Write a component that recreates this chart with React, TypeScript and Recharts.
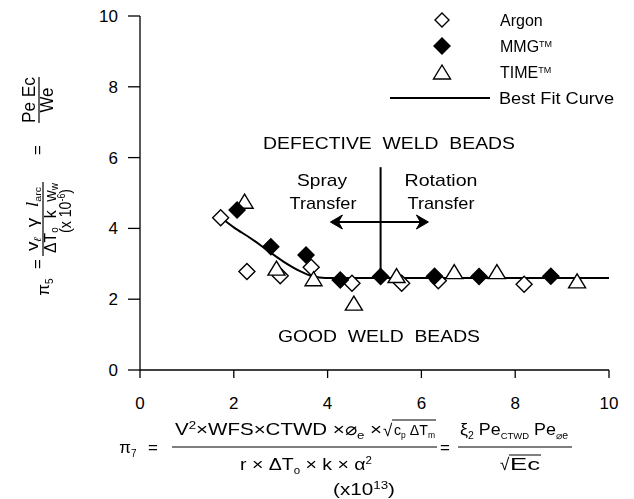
import React from 'react'
import { ComposedChart, Scatter, Line, XAxis, YAxis, ReferenceLine } from 'recharts'

const axisTicks = [0, 2, 4, 6, 8, 10]

const argonX = [1.72, 2.28, 2.99, 3.65, 4.52, 5.58, 6.36, 8.19]
const argonY = [4.3, 2.78, 2.66, 2.9, 2.45, 2.45, 2.52, 2.42]
const mmgX = [2.07, 2.79, 3.54, 4.27, 5.13, 6.28, 7.23, 8.76]
const mmgY = [4.52, 3.48, 3.25, 2.54, 2.64, 2.65, 2.64, 2.65]
const timeX = [2.23, 2.91, 3.7, 4.56, 5.47, 6.7, 7.61, 9.32]
const timeY = [4.74, 2.85, 2.55, 1.86, 2.64, 2.75, 2.75, 2.49]
const fitX = [1.75, 2.0, 2.35, 2.7, 3.05, 3.4, 3.7, 3.95, 10]
const fitY = [4.28, 4.03, 3.73, 3.4, 3.07, 2.8, 2.64, 2.6, 2.6]

const toPoints = (xs: number[], ys: number[]) => xs.map((x, i) => ({ x, y: ys[i] }))

const argon = toPoints(argonX, argonY)
const mmg = toPoints(mmgX, mmgY)
const time = toPoints(timeX, timeY)
const fit = toPoints(fitX, fitY)

const FONT = '"Liberation Sans", Arial, sans-serif'
const PRE = { whiteSpace: 'pre' as const }
const STRETCH = 'spacingAndGlyphs'

const diamondPts = (cx: number, cy: number, r: number) =>
  `${cx},${cy - r} ${cx + r},${cy} ${cx},${cy + r} ${cx - r},${cy}`
const trianglePts = (cx: number, cy: number) =>
  `${cx},${cy - 8} ${cx + 8.5},${cy + 6} ${cx - 8.5},${cy + 6}`

const OpenDiamond = (p: any) => (
  <polygon points={diamondPts(p.cx, p.cy, 8)} fill="#fff" stroke="#000" strokeWidth={1.4} />
)
const FilledDiamond = (p: any) => (
  <polygon points={diamondPts(p.cx, p.cy, 8)} fill="#000" stroke="#000" strokeWidth={1.4} />
)
const OpenTriangle = (p: any) => (
  <polygon points={trianglePts(p.cx, p.cy)} fill="#fff" stroke="#000" strokeWidth={1.4} />
)

// double-headed arrow between Spray / Rotation transfer
const DoubleArrow = (p: any) => {
  const { x1, y1, x2, y2 } = p
  const y = (y1 + y2) / 2
  const l = Math.min(x1, x2)
  const r = Math.max(x1, x2)
  return (
    <g>
      <line x1={l + 4} x2={r - 4} y1={y} y2={y} stroke="#000" strokeWidth={2} />
      <path d={`M${l},${y} L${l + 12},${y - 7} L${l + 8},${y} L${l + 12},${y + 7} Z`} fill="#000" stroke="#000" strokeWidth={1} />
      <path d={`M${r},${y} L${r - 12},${y - 7} L${r - 8},${y} L${r - 12},${y + 7} Z`} fill="#000" stroke="#000" strokeWidth={1} />
    </g>
  )
}

// text runs with sub/superscripts, dy is reset on the next run
type Part = { t: string; s?: 'sub' | 'sup'; size?: number; italic?: boolean; serif?: boolean }
const rich = (parts: Part[], sub = 4, sup = 6) => {
  let cur = 0
  return parts.map((p, i) => {
    const target = p.s === 'sub' ? sub : p.s === 'sup' ? -sup : 0
    const dy = target - cur
    cur = target
    return (
      <tspan
        key={i}
        dy={dy || undefined}
        fontSize={p.size ?? (p.s ? 10 : undefined)}
        fontStyle={p.italic ? 'italic' : undefined}
        fontFamily={p.serif ? '"Liberation Serif", serif' : undefined}
      >
        {p.t}
      </tspan>
    )
  })
}

function Overlay() {
  return (
    <svg
      width={634}
      height={499}
      style={{ position: 'absolute', left: 0, top: 0, pointerEvents: 'none', fontFamily: FONT, filter: 'grayscale(1)' }}
    >
      <g fill="#000">
        {/* y axis title, rotated */}
        <g transform="rotate(-90)" fontSize={16}>
          <text x={-100} y={35} textAnchor="middle" fontSize={18} textLength={46} lengthAdjust={STRETCH} style={PRE}>Pe Ec</text>
          <line x1={-123} x2={-77} y1={39} y2={39} stroke="#000" strokeWidth={1.2} />
          <text x={-100} y={53} textAnchor="middle" fontSize={18} textLength={25} lengthAdjust={STRETCH}>We</text>
          <text x={-150} y={43} textAnchor="middle" fontSize={17}>=</text>
          <text x={-219} y={38} textAnchor="middle" textLength={64} lengthAdjust={STRETCH} style={PRE}>
            {rich([
              { t: 'v' },
              { t: 'ℓ', s: 'sub', italic: true },
              { t: '  γ  ' },
              { t: 'l', italic: true, serif: true, size: 17 },
              { t: 'arc', s: 'sub', size: 9 },
            ], 3)}
          </text>
          <line x1={-256} x2={-182} y1={43} y2={43} stroke="#000" strokeWidth={1.2} />
          <text x={-218} y={56} textAnchor="middle" textLength={70} lengthAdjust={STRETCH} style={PRE}>
            {rich([{ t: 'ΔT' }, { t: 'o', s: 'sub' }, { t: '  k  w' }, { t: 'w', s: 'sub' }], 2)}
          </text>
          <text x={-211} y={71} textAnchor="middle" textLength={44} lengthAdjust={STRETCH} style={PRE}>
            {rich([{ t: '(x 10' }, { t: '-6', s: 'sup' }, { t: ')' }])}
          </text>
          <text x={-264} y={43} textAnchor="middle" fontSize={17}>=</text>
          <text x={-287} y={49} textAnchor="middle" fontSize={17}>
            {rich([{ t: 'π' }, { t: '5', s: 'sub' }])}
          </text>
        </g>

        {/* x axis title */}
        <g fontSize={17}>
          <text x={128} y={453} textAnchor="middle">
            {rich([{ t: 'π' }, { t: '7', s: 'sub' }])}
          </text>
          <text x={153} y={453} textAnchor="middle">=</text>
          <text x={175} y={435} textLength={207} lengthAdjust={STRETCH} style={PRE}>
            {rich([{ t: 'V' }, { t: '2', s: 'sup', size: 11 }, { t: '×WFS×CTWD ×⌀' }, { t: 'e', s: 'sub', size: 11 }, { t: ' ×' }])}
          </text>
          <text x={383} y={436}>√</text>
          <text x={394} y={435} textLength={41} lengthAdjust={STRETCH} fontSize={15} style={PRE}>
            {rich([{ t: 'c' }, { t: 'p', s: 'sub', size: 9 }, { t: ' ΔT' }, { t: 'm', s: 'sub', size: 9 }], 3)}
          </text>
          <line x1={392} x2={436} y1={420} y2={420} stroke="#000" strokeWidth={1} />
          <line x1={172} x2={437} y1={447} y2={447} stroke="#000" strokeWidth={1.2} />
          <text x={306} y={470} textAnchor="middle" textLength={132} lengthAdjust={STRETCH} style={PRE}>
            {rich([{ t: 'r × ΔT' }, { t: 'o', s: 'sub' }, { t: ' × k × α' }, { t: '2', s: 'sup' }])}
          </text>
          <text x={445} y={453} textAnchor="middle">=</text>
          <text x={514} y={435} textAnchor="middle" textLength={108} lengthAdjust={STRETCH} style={PRE}>
            {rich([{ t: 'ξ' }, { t: '2', s: 'sub' }, { t: ' Pe' }, { t: 'CTWD', s: 'sub', size: 9 }, { t: ' Pe' }, { t: '⌀e', s: 'sub', size: 10 }])}
          </text>
          <line x1={458} x2={572} y1={447} y2={447} stroke="#000" strokeWidth={1.2} />
          <text x={500} y={470}>√</text>
          <text x={510} y={470} textLength={30} lengthAdjust={STRETCH}>Ec</text>
          <line x1={509} x2={541} y1={455} y2={455} stroke="#000" strokeWidth={1} />
          <text x={364} y={495} textAnchor="middle" textLength={62} lengthAdjust={STRETCH}>
            {rich([{ t: '(x10' }, { t: '13', s: 'sup', size: 11 }, { t: ')' }])}
          </text>
        </g>

        {/* region notes */}
        <g fontSize={17}>
          <text x={389} y={149} textAnchor="middle" textLength={252} lengthAdjust={STRETCH} style={PRE}>{'DEFECTIVE  WELD  BEADS'}</text>
          <text x={322} y={186} textAnchor="middle" textLength={50} lengthAdjust={STRETCH}>Spray</text>
          <text x={323} y={209} textAnchor="middle" textLength={67} lengthAdjust={STRETCH}>Transfer</text>
          <text x={441} y={186} textAnchor="middle" textLength={73} lengthAdjust={STRETCH}>Rotation</text>
          <text x={441} y={209} textAnchor="middle" textLength={67} lengthAdjust={STRETCH}>Transfer</text>
          <text x={379} y={342} textAnchor="middle" textLength={202} lengthAdjust={STRETCH} style={PRE}>{'GOOD  WELD  BEADS'}</text>
        </g>

        {/* legend */}
        <g fontSize={16}>
          <polygon points={diamondPts(442, 20, 7)} fill="#fff" stroke="#000" strokeWidth={1.4} />
          <text x={500} y={26}>Argon</text>
          <polygon points={diamondPts(442, 46, 8)} fill="#000" stroke="#000" strokeWidth={1.4} />
          <text x={500} y={52}>{rich([{ t: 'MMG' }, { t: 'TM', s: 'sup', size: 9 }], 4, 5)}</text>
          <polygon points={trianglePts(442, 73)} fill="#fff" stroke="#000" strokeWidth={1.4} />
          <text x={500} y={78}>{rich([{ t: 'TIME' }, { t: 'TM', s: 'sup', size: 9 }], 4, 5)}</text>
          <line x1={390} x2={490} y1={98} y2={98} stroke="#000" strokeWidth={2} />
          <text x={499} y={104} textLength={115} lengthAdjust={STRETCH} style={PRE}>Best Fit Curve</text>
        </g>
      </g>
    </svg>
  )
}

export default function App() {
  return (
    <div style={{ position: 'absolute', left: 0, top: 0, width: 634, height: 499, background: '#fff' }}>
      <ComposedChart
        width={634}
        height={499}
        margin={{ top: 16, right: 25, bottom: 99, left: 0 }}
        style={{ fontFamily: FONT }}
      >
        <XAxis
          type="number"
          dataKey="x"
          domain={[0, 10]}
          ticks={axisTicks}
          height={30}
          tickSize={8}
          tickMargin={19}
          stroke="#000"
          strokeWidth={1.3}
          tick={{ fill: '#000', fontSize: 17, fontFamily: FONT }}
        />
        <YAxis
          type="number"
          dataKey="y"
          domain={[0, 10]}
          ticks={axisTicks}
          width={140}
          tickSize={12}
          tickMargin={10}
          stroke="#000"
          strokeWidth={1.3}
          tick={{ fill: '#000', fontSize: 17, fontFamily: FONT }}
        />
        <ReferenceLine
          segment={[{ x: 5.13, y: 2.6 }, { x: 5.13, y: 5.73 }]}
          stroke="#000"
          strokeWidth={2}
        />
        <ReferenceLine
          segment={[{ x: 4.06, y: 4.18 }, { x: 6.15, y: 4.18 }]}
          shape={DoubleArrow}
        />
        <Line
          data={fit}
          dataKey="y"
          type="monotone"
          stroke="#000"
          strokeWidth={2}
          dot={false}
          isAnimationActive={false}
          name="Best Fit Curve"
        />
        <Scatter data={argon} name="Argon" shape={OpenDiamond} isAnimationActive={false} />
        <Scatter data={time} name="TIME" shape={OpenTriangle} isAnimationActive={false} />
        <Scatter data={mmg} name="MMG" shape={FilledDiamond} isAnimationActive={false} />
      </ComposedChart>
      <Overlay />
    </div>
  )
}
